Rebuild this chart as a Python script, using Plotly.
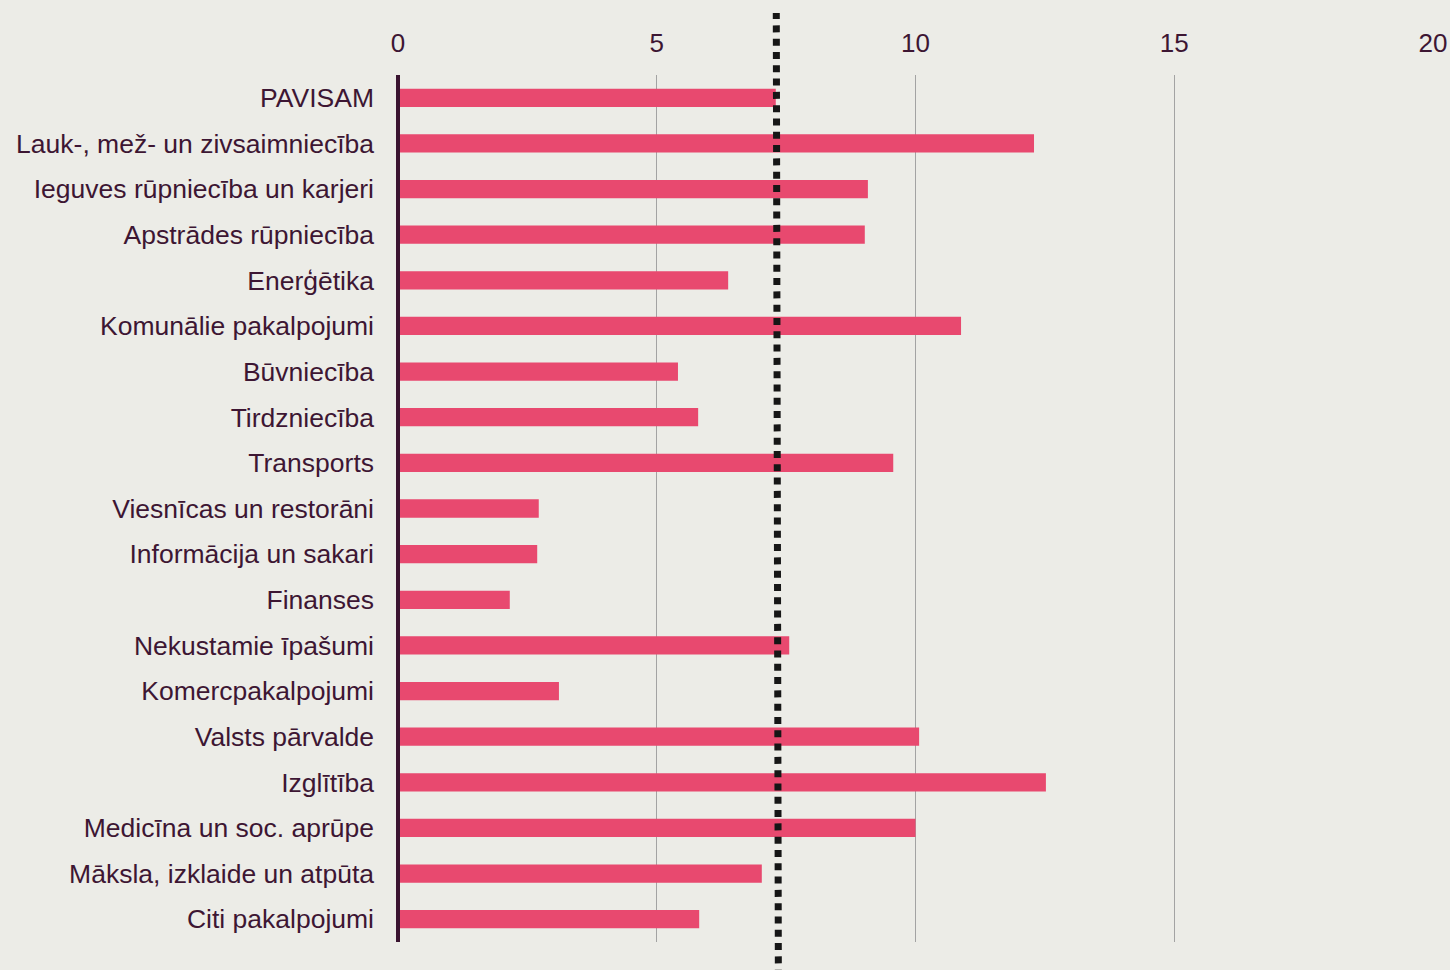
import plotly.graph_objects as go

categories = [
    "PAVISAM",
    "Lauk-, mež- un zivsaimniecība",
    "Ieguves rūpniecība un karjeri",
    "Apstrādes rūpniecība",
    "Enerģētika",
    "Komunālie pakalpojumi",
    "Būvniecība",
    "Tirdzniecība",
    "Transports",
    "Viesnīcas un restorāni",
    "Informācija un sakari",
    "Finanses",
    "Nekustamie īpašumi",
    "Komercpakalpojumi",
    "Valsts pārvalde",
    "Izglītība",
    "Medicīna un soc. aprūpe",
    "Māksla, izklaide un atpūta",
    "Citi pakalpojumi",
]
values = [7.30, 12.29, 9.08, 9.02, 6.38, 10.88, 5.41, 5.80, 9.57, 2.72,
          2.69, 2.16, 7.56, 3.11, 10.07, 12.52, 10.00, 7.03, 5.82]
average_line = [7.35, 7.31]  # bottom, top
x_ticks = [0, 5, 10, 15, 20]

BG = "#ECECE7"
TXT = "#3D1633"
BAR = "#E8496F"

fig = go.Figure()
fig.add_trace(go.Bar(
    x=values, y=categories, orientation="h",
    marker=dict(color=BAR, line=dict(width=0)),
    width=0.4, hoverinfo="skip",
))

fig.add_shape(type="line", xref="x", yref="paper",
              x0=average_line[0], x1=average_line[1], y0=-0.04, y1=1.0715,
              line=dict(color="#161616", width=7, dash="7px,6.3px"), layer="above")
fig.add_shape(type="line", xref="paper", yref="paper",
              x0=0, x1=0, y0=0, y1=1,
              line=dict(color="#3A1430", width=4), layer="above")

fig.update_layout(
    width=1450, height=970,
    paper_bgcolor=BG, plot_bgcolor=BG,
    margin=dict(l=398, r=17, t=75, b=28, autoexpand=False),
    showlegend=False,
    font=dict(family="Liberation Sans, Arial, sans-serif", size=26.5, color=TXT),
    xaxis=dict(
        side="top", range=[0, 20], tickvals=x_ticks, automargin=False,
        showgrid=True, gridcolor="#A3A3A3", gridwidth=1,
        zeroline=False, showline=False, ticks="",
        tickfont=dict(size=26, color=TXT),
        ticklabelstandoff=17,
    ),
    yaxis=dict(
        autorange="reversed", showgrid=False, zeroline=False, showline=False,
        automargin=False,
        ticks="", tickfont=dict(size=26.5, color=TXT), ticklabelstandoff=23,
    ),
)

fig.write_html(
    "out.html",
    config={"displayModeBar": False},
    post_script="document.body.style.margin='0';document.body.style.background='" + BG + "';",
)
